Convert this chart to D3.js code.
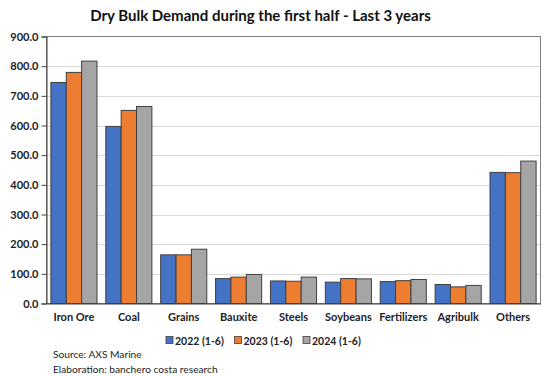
<!DOCTYPE html>
<html><head><meta charset="utf-8">
<script src="https://cdn.jsdelivr.net/npm/d3@7"></script>
<style>body{margin:0;background:#fff}svg{display:block}</style>
</head><body>
<svg id="c" width="554" height="376"></svg>
<script>
const categories = ["Iron Ore","Coal","Grains","Bauxite","Steels","Soybeans","Fertilizers","Agribulk","Others"];
const seriesNames = ["2022 (1-6)","2023 (1-6)","2024 (1-6)"];
const v2022 = [745, 597, 164, 84, 76, 72, 74, 64, 442];
const v2023 = [779, 651, 164, 89, 75, 84, 77, 56, 441];
const v2024 = [817, 664, 183, 98, 89, 83, 81, 61, 480];
const yTicks = [0,100,200,300,400,500,600,700,800,900];
const colors = ["#4472C4","#ED7D31","#A5A5A5"];
const title = "Dry Bulk Demand during the first half - Last 3 years";
const notes = ["Source: AXS Marine","Elaboration: banchero costa research"];

const series = [v2022, v2023, v2024];
const svg = d3.select("#c");
const font = "Lato, 'Open Sans', sans-serif";
const L = 46.5, R = 540.5, T = 36.5, B = 303.5;

const x = d3.scaleBand().domain(categories).range([L, R]).paddingInner(0.16).paddingOuter(0.08);
const xs = d3.scaleBand().domain(d3.range(3)).range([0, x.bandwidth()]);
const y = d3.scaleLinear().domain([0, 900]).range([B, T]);

// gridlines
svg.append("g").selectAll("line").data(yTicks.filter(d=>d>0 && d<900)).join("line")
  .attr("x1", L).attr("x2", R).attr("y1", d=>Math.round(y(d))+0.5).attr("y2", d=>Math.round(y(d))+0.5)
  .attr("stroke", "#d9d9d9").attr("stroke-width", 1);

// plot border
svg.append("rect").attr("x", L).attr("y", T).attr("width", R-L).attr("height", B-T)
  .attr("fill","none").attr("stroke","#7f7f7f").attr("stroke-width",1);

// bars
const g = svg.append("g");
series.forEach((vals, si) => {
  g.append("g").selectAll("rect").data(vals).join("rect")
    .attr("x", (d,i)=>x(categories[i]) + xs(si))
    .attr("y", d=>y(d))
    .attr("width", xs.bandwidth())
    .attr("height", d=>B - y(d))
    .attr("fill", colors[si])
    .attr("stroke", "#404040").attr("stroke-width", 1);
});

// y axis
const ya = svg.append("g").attr("transform", `translate(${L},0)`)
  .call(d3.axisLeft(y).tickValues(yTicks).tickFormat(d3.format(".1f")).tickSize(5).tickPadding(3));
ya.select(".domain").attr("stroke","#404040");
ya.selectAll(".tick line").attr("stroke","#404040");
ya.selectAll("text").attr("font-family", font).attr("font-weight","bold").attr("font-size","11px").attr("fill","#222");

// x axis
const xa = svg.append("g").attr("transform", `translate(0,${B})`)
  .call(d3.axisBottom(x).tickSize(0).tickPadding(10));
xa.select(".domain").attr("stroke","#404040");
xa.selectAll("text").attr("font-family", font).attr("font-weight","bold").attr("font-size","11px").attr("fill","#222");

// title
svg.append("text").attr("x", 260.5).attr("y", 21).attr("text-anchor","middle")
  .attr("font-family", font).attr("font-weight","bold").attr("font-size","15px").attr("fill","#111")
  .text(title);

// legend
const lx = [166, 234.5, 303];
const lg = svg.append("g");
seriesNames.forEach((n,i)=>{
  lg.append("rect").attr("x", lx[i]).attr("y", 336.5).attr("width",7).attr("height",7)
    .attr("fill", colors[i]).attr("stroke","#404040").attr("stroke-width",0.8);
  lg.append("text").attr("x", lx[i]+9).attr("y", 344.5)
    .attr("font-family", font).attr("font-weight","bold").attr("font-size","10.5px").attr("fill","#222").text(n);
});

// notes
notes.forEach((t,i)=>{
  svg.append("text").attr("x", 53).attr("y", 358 + i*14.5)
    .attr("font-family", font).attr("font-size","10.2px").attr("fill","#222").text(t);
});
</script>
</body></html>
